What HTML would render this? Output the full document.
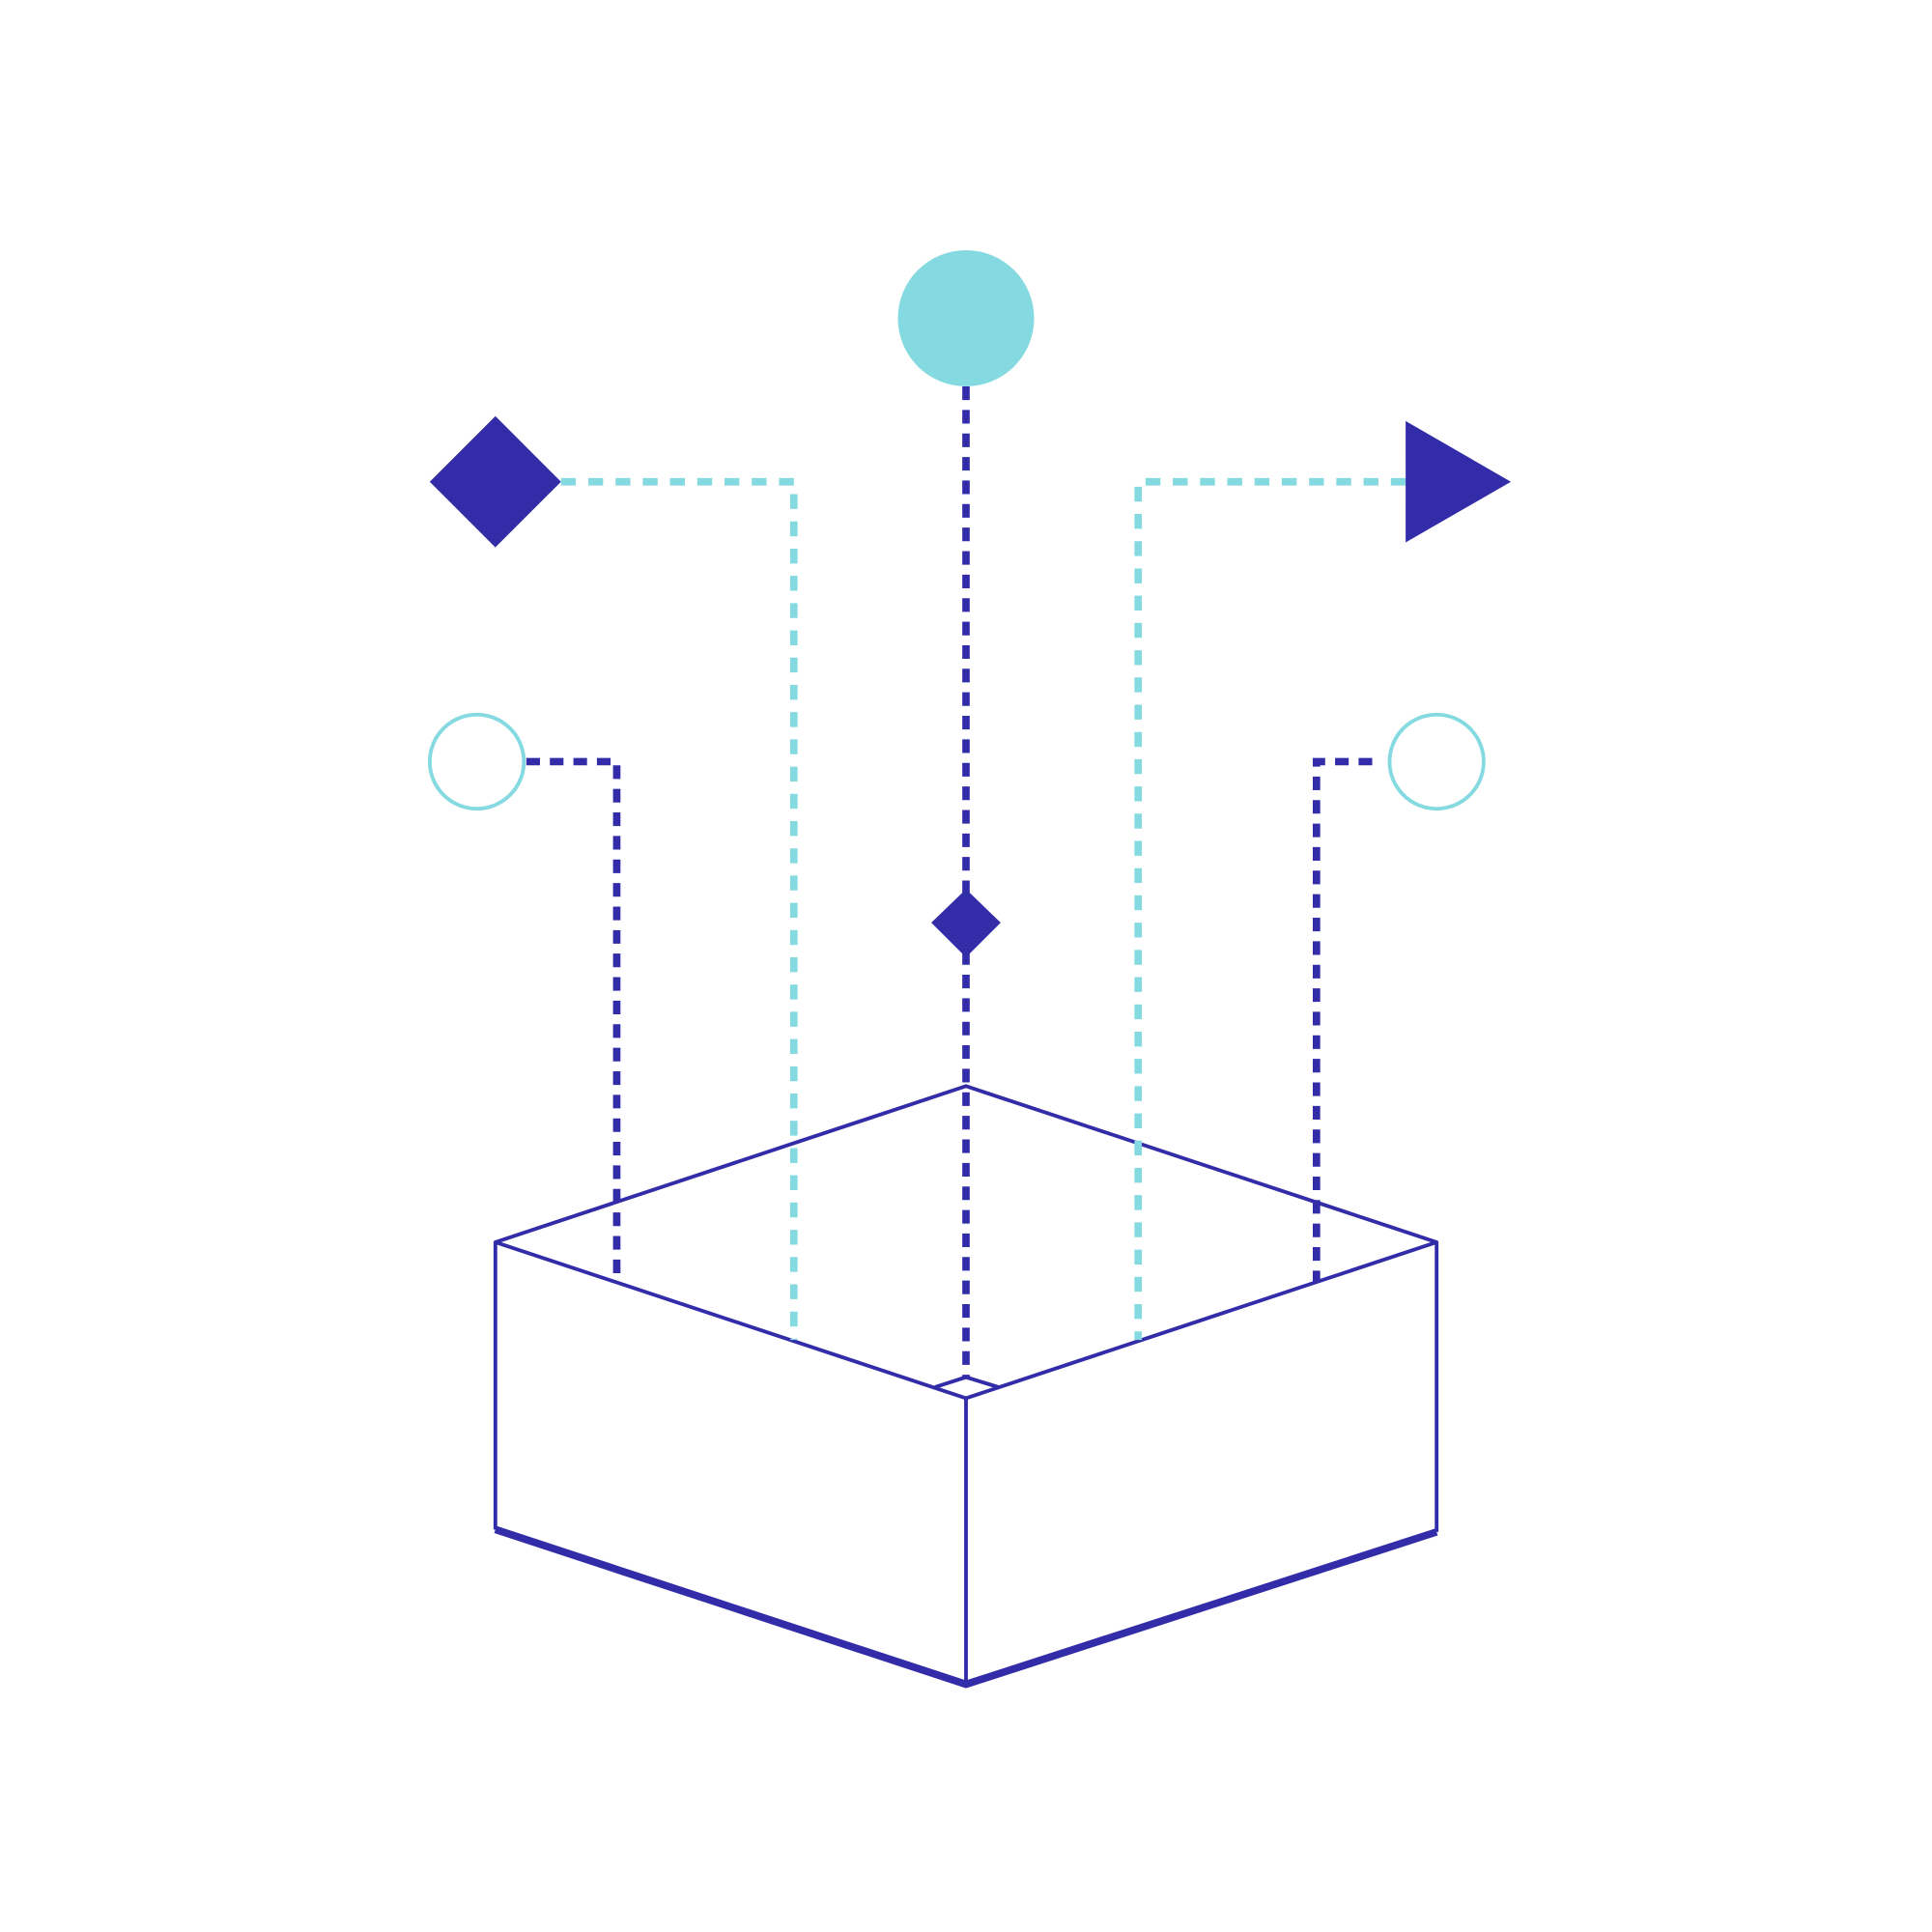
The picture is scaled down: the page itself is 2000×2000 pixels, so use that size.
<!DOCTYPE html>
<html><head><style>html,body{margin:0;padding:0;background:#fff}svg{display:block}</style></head>
<body>
<svg width="2000" height="2000" viewBox="0 0 1560 1560" xmlns="http://www.w3.org/2000/svg">
<rect width="1560" height="1560" fill="#fff"/>
<g fill="none" stroke="#332ca8" stroke-width="3" stroke-linejoin="round">
<polygon points="400,1003 780,877 1160,1003 780,1129"/>
<line x1="400" y1="1003" x2="400" y2="1235"/>
<line x1="1160" y1="1003" x2="1160" y2="1237"/>
<line x1="780" y1="1129" x2="780" y2="1360"/>
<polyline points="755,1120 780,1112 806,1120"/>
<polyline points="400,1235 780,1360 1160,1237" stroke-width="6"/>
</g>
<g fill="none" stroke="#84dae0" stroke-width="6" stroke-dasharray="12,10">
<polyline points="453,389 641,389 641,1082"/>
<polyline points="1135,389 919,389 919,1082"/>
</g>
<g fill="none" stroke="#332ca8" stroke-width="6" stroke-dasharray="11,8">
<line x1="780" y1="312" x2="780" y2="1112"/>
<polyline points="425,615 498,615 498,1035"/>
<polyline points="1108,615 1063,615 1063,1035"/>
</g>
<circle cx="780" cy="257" r="55" fill="#84dae0"/>
<polygon points="400,336 453,389 400,442 347,389" fill="#332ca8"/>
<polygon points="1135,340 1220,389 1135,438" fill="#332ca8"/>
<polygon points="780,718 808,745 780,773 752,745" fill="#332ca8"/>
<circle cx="385" cy="615" r="38" fill="#fff" stroke="#84dae0" stroke-width="3"/>
<circle cx="1160" cy="615" r="38" fill="#fff" stroke="#84dae0" stroke-width="3"/>
</svg>
</body></html>
